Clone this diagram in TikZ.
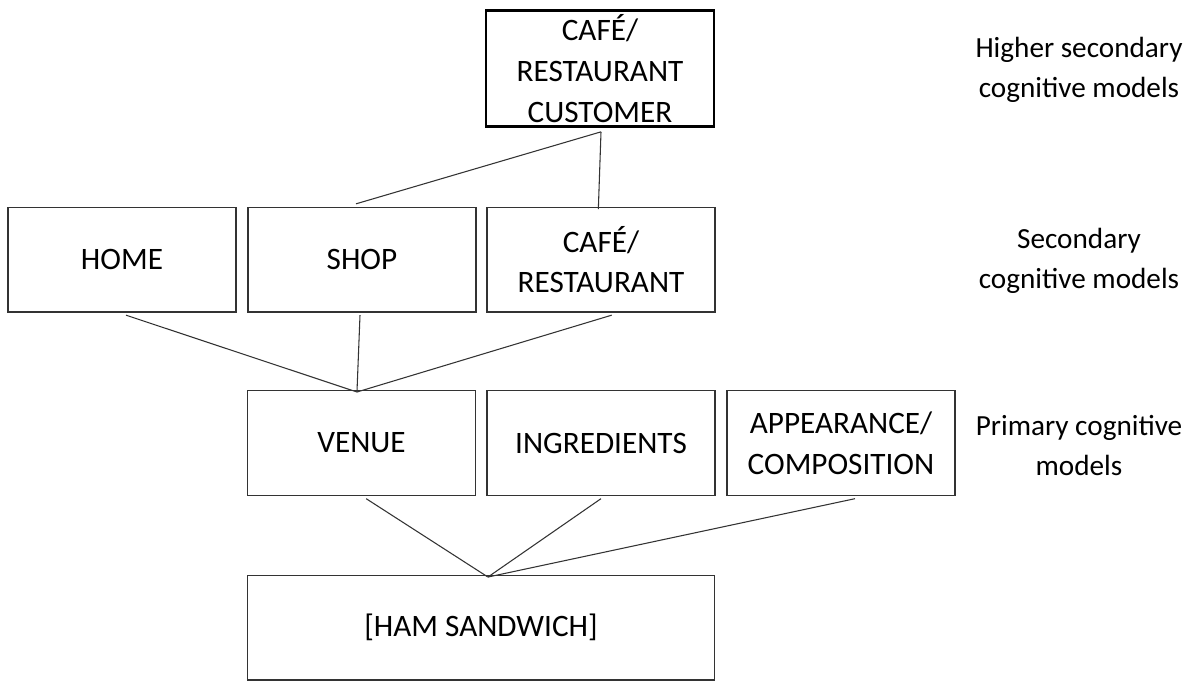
\documentclass[tikz,border=0pt]{standalone}
\usepackage{fontspec}
\setmainfont{Carlito}
\usetikzlibrary{positioning}

\begin{document}
\begin{tikzpicture}[x=0.75pt, y=-0.75pt,
    model/.style={draw=black!80, line width=1pt, inner sep=0pt, align=center,
        minimum width=171pt, minimum height=78.5pt,
        font=\fontsize{23.4}{30.5}\selectfont},
    toplevel/.style={model, draw=black, line width=2pt, minimum height=87pt},
    level/.style={align=center, font=\fontsize{21.9}{30}\selectfont},
    link/.style={draw=black!80, line width=0.8pt}]
    \useasboundingbox (0,0) rectangle (1195,682);

    % boxes
    \node[toplevel] (cust) at (600,68.5) {CAFÉ/\\RESTAURANT\\CUSTOMER};
    \node[model] (home) at (122,259.5) {HOME};
    \node[model] (shop) at (362,259.5) {SHOP};
    \node[model] (cafe) at (601,259.5) {CAFÉ/\\RESTAURANT};
    \node[model] (venue) at (361.5,443) {VENUE};
    \node[model] (ingr) at (601,443) {INGREDIENTS};
    \node[model] (appear) at (841,443) {APPEARANCE/\\COMPOSITION};
    \node[model, minimum width=350pt] (ham) at (481,627.5) {[HAM SANDWICH]};

    % levels
    \node[level] (lvhigh) at (1079,70) {Higher secondary\\cognitive models};
    \node[level] (lvsec) at (1079,261) {Secondary\\cognitive models};
    \node[level] (lvprim) at (1079,446) {Primary cognitive\\models};

    % junctions
    \coordinate (jtop) at ([xshift=0.75pt, yshift=-3pt]cust.south);
    \coordinate (jmid) at ([xshift=-3.4pt, yshift=-1.5pt]venue.north);
    \coordinate (jlow) at ([xshift=5.2pt, yshift=-1.9pt]ham.north);

    % connectors
    \draw[link] (jtop) -- ([xshift=-4.5pt, yshift=2pt]shop.north);
    \draw[link] (jtop) -- ([xshift=-2pt, yshift=-2pt]cafe.north);
    \draw[link] ([xshift=3pt, yshift=-2pt]home.south) -- (jmid);
    \draw[link] ([xshift=-1.5pt, yshift=-2pt]shop.south) -- (jmid);
    \draw[link] ([xshift=8pt, yshift=-2pt]cafe.south) -- (jmid);
    \draw[link] ([xshift=3.5pt, yshift=-2pt]venue.south) -- (jlow);
    \draw[link] ([yshift=-2pt]ingr.south) -- (jlow);
    \draw[link] ([xshift=10.5pt, yshift=-2pt]appear.south) -- (jlow);
\end{tikzpicture}
\end{document}
